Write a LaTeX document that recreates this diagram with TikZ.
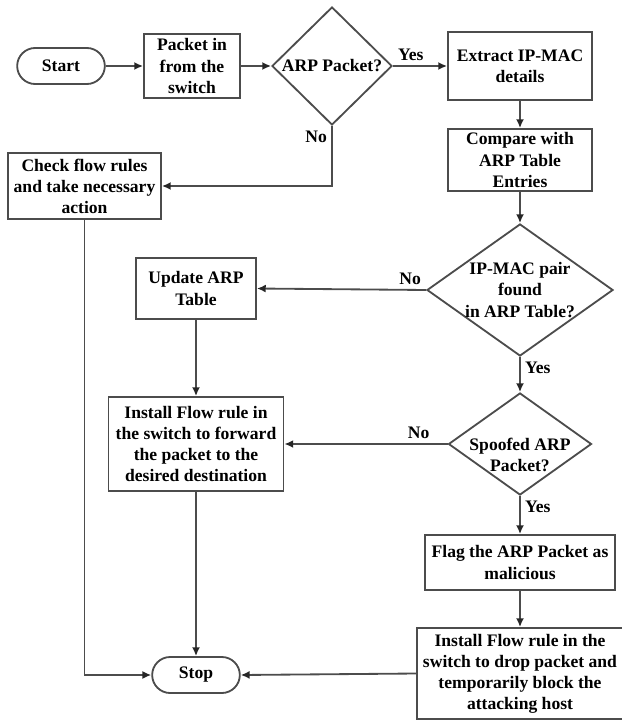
\documentclass[tikz,border=0pt]{standalone}
\usepackage{fontspec}
\setmainfont{Liberation Serif}[BoldFont={Liberation Serif Bold}]
\usetikzlibrary{arrows.meta}
\usetikzlibrary{shapes.geometric}
\usetikzlibrary{shapes.misc}
\begin{document}
\begin{tikzpicture}
	[x=0.025cm, y=-0.025cm,
	every node/.style={font=\rmfamily\fontsize{12.5}{15}\selectfont\bfseries, align=center},
	terminal/.style={rounded rectangle, draw=black!70, line width=1.3pt, minimum width=2.425cm, minimum height=0.9cm},
	process/.style={rectangle, draw=black!70, line width=1.3pt, inner sep=2pt},
	decision/.style={diamond, draw=black!70, line width=1.3pt, inner sep=0pt},
	answer/.style={inner sep=3pt},
	flow/.style={draw=black!70, line width=1.3pt, -{Latex[length=2.2mm,width=2mm,color=black!85]}}]
	\useasboundingbox (0,0) rectangle (621,722);
	\node[terminal] (start) at (61,66) {Start};
	\node[process, minimum width=2.4cm, minimum height=1.6cm] (packet) at (192,66) {Packet in\\from the\\switch};
	\node[decision, minimum width=3cm, minimum height=2.95cm,
		label={center:ARP Packet?}] (arp) at (332,66) {};
	\node[process, minimum width=3.6cm, minimum height=1.7cm] (extract) at (520,66) {Extract IP-MAC\\details};
	\node[process, minimum width=3.6cm, minimum height=1.55cm] (compare) at (520,160) {Compare with\\ARP Table\\Entries};
	\node[process, minimum width=3.825cm, minimum height=1.65cm] (check) at (84.5,186) {Check flow rules\\and take necessary\\action};
	\node[decision, minimum width=4.65cm, minimum height=3.3cm,
		label={[align=center]center:IP-MAC pair\\found\\in ARP Table?}] (pair) at (520,290) {};
	\node[process, minimum width=3cm, minimum height=1.525cm] (update) at (196,288.5) {Update ARP\\Table};
	\node[process, minimum width=4.375cm, minimum height=2.35cm] (forward) at (196,444) {Install Flow rule in\\the switch to forward\\the packet to the\\desired destination};
	\node[decision, minimum width=3.575cm, minimum height=2.55cm,
		label={[align=center, yshift=-0.28cm]center:Spoofed ARP\\Packet?}] (spoofed) at (520,444) {};
	\node[process, minimum width=4.75cm, minimum height=1.375cm] (flag) at (520,562.5) {Flag the ARP Packet as\\malicious};
	\node[process, minimum width=5.15cm, minimum height=2.275cm] (block) at (520,673.5) {Install Flow rule in the\\switch to drop packet and\\temporarily block the\\attacking host};
	\node[terminal] (stop) at (196,675) {Stop};

	\draw[flow] (start) -- (packet);
	\draw[flow] (packet) -- (arp.west);
	\draw[flow] (arp.east) -- node[answer, anchor=south west, at start] (arpyes) {Yes} (extract);
	\draw[flow] (arp.south) |- node[answer, anchor=north east, at start] (arpno) {No} (check.east);
	\draw[flow] (extract) -- (compare);
	\draw[flow] (compare) -- (pair.north);
	\draw[flow] (pair.west) -- node[answer, anchor=south east, at start] (pairno) {No} (update.east);
	\draw[flow] (pair.south) -- node[answer, anchor=north west, at start] (pairyes) {Yes} (spoofed.north);
	\draw[flow] (update) -- (forward);
	\draw[flow] (spoofed.west) -- node[answer, anchor=south east, pos=0.08] (spoofno) {No} (forward.east);
	\draw[flow] (spoofed.south) -- node[answer, anchor=north west, at start] (spoofyes) {Yes} (flag);
	\draw[flow] (flag) -- (block);
	\draw[flow] (forward) -- (stop);
	\draw[flow] (check.south) |- (stop.west);
	\draw[flow] (block.west) -- (stop.east);
\end{tikzpicture}
\end{document}
